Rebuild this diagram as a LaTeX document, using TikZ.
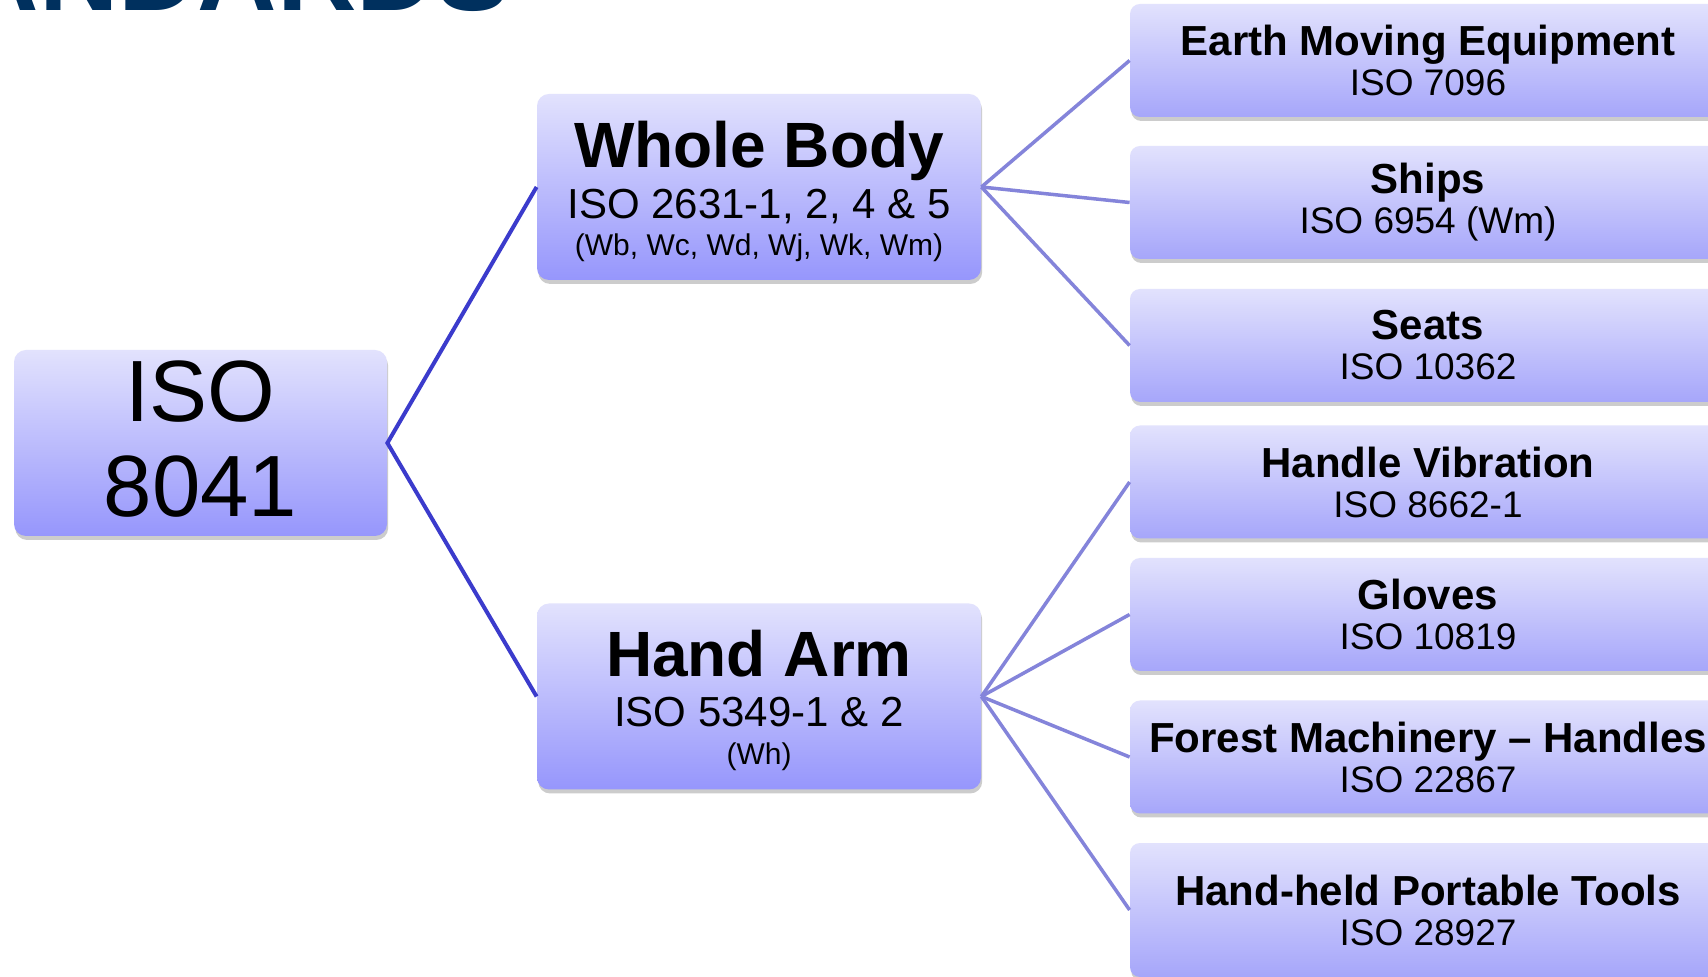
\documentclass[tikz,border=0pt]{standalone}
\usepackage{fontspec}
\setmainfont{Liberation Sans}
\usepackage{tikz}
\usetikzlibrary{shadows}
\definecolor{isoNavy}{RGB}{0,48,94}
\definecolor{isoBoxTop}{RGB}{226,226,253}
\definecolor{isoBoxBot}{RGB}{150,150,252}
\definecolor{isoLeafBot}{RGB}{166,166,250}
\definecolor{isoLinkDark}{RGB}{59,59,204}
\definecolor{isoLinkLight}{RGB}{132,132,218}
\newcommand{\fsz}[2]{\fontsize{#1}{#2}\selectfont}

\begin{document}
\begin{tikzpicture}[x=0.5pt,y=-0.5pt,
    stdbox/.style={rounded corners=6pt, top color=isoBoxTop, bottom color=isoBoxBot,
        drop shadow={shadow xshift=0.6pt, shadow yshift=-2pt, opacity=0.4},
        align=center, inner sep=0pt, text=black},
    groupbox/.style={stdbox, minimum width=222pt, minimum height=93pt},
    leafbox/.style={stdbox, bottom color=isoLeafBot, rounded corners=5pt,
        minimum width=298pt, minimum height=56.5pt, font=\fsz{18.5}{20}},
    linkmain/.style={isoLinkDark, line width=2pt},
    linkleaf/.style={isoLinkLight, line width=1.75pt}]

    % =========================
    % page frame
    % =========================
    \useasboundingbox (0,0) rectangle (1708,977);
    \clip (0,0) rectangle (1708,977);
    \fill[white] (0,0) rectangle (1708,977);

    % title, cut by the top edge
    \node[anchor=base east, text=isoNavy, font=\fsz{55}{55}\bfseries, inner sep=0pt]
        (title) at (510,11) {STANDARDS};

    % =========================
    % root and the two groups
    % =========================
    \node[stdbox, minimum width=186.5pt, minimum height=93pt, font=\fsz{43.5}{47.5}]
        (iso) at (200.5,443) {ISO\\8041\rule[-4.4pt]{0pt}{1pt}};

    % baselines: 25.5pt then 18.5pt
    \node[groupbox, font={\fsz{15}{18.5}\lineskiplimit=-200pt}] (wb) at (759,187)
        {{\fsz{32}{18.5}\bfseries\rule{0pt}{27.4pt}Whole Body}\\[7pt]
         {\fsz{21}{18.5}ISO 2631-1, 2, 4 \& 5}\\
         (Wb, Wc, Wd, Wj, Wk, Wm)};

    % baselines: 25pt then 19pt
    \node[groupbox, font={\fsz{15}{19}\lineskiplimit=-200pt}] (ha) at (759,696.5)
        {{\fsz{32}{19}\bfseries\rule{0pt}{27.4pt}Hand Arm}\\[6pt]
         {\fsz{21}{19}ISO 5349-1 \& 2}\\
         (Wh)};

    % =========================
    % leaves, cut by the right edge
    % =========================
    \node[leafbox] (earth)  at (1428,60.5)  {{\fsz{21}{20}\bfseries Earth Moving Equipment}\\ISO 7096};
    \node[leafbox] (ships)  at (1428,202.5) {{\fsz{21}{20}\bfseries Ships}\\ISO 6954 (Wm)};
    \node[leafbox] (seats)  at (1428,345.5) {{\fsz{21}{20}\bfseries Seats}\\ISO 10362};
    \node[leafbox] (handle) at (1428,482)   {{\fsz{21}{20}\bfseries Handle Vibration}\\ISO 8662-1};
    \node[leafbox] (gloves) at (1428,614.5) {{\fsz{21}{20}\bfseries Gloves}\\ISO 10819};
    \node[leafbox] (forest) at (1428,757)   {{\fsz{21}{20}\bfseries Forest Machinery -- Handles}\\ISO 22867};
    \node[leafbox, minimum height=67pt] (tools) at (1428,910)
        {{\fsz{21}{20}\bfseries Hand-held Portable Tools}\\ISO 28927};

    % =========================
    % connectors
    % =========================
    \draw[linkmain] (wb.west) -- (iso.east) -- (ha.west);

    \foreach \leaf in {earth,ships,seats}
        \draw[linkleaf] (wb.east) -- (\leaf.west);
    \foreach \leaf in {handle,gloves,forest,tools}
        \draw[linkleaf] (ha.east) -- (\leaf.west);

\end{tikzpicture}
\end{document}
